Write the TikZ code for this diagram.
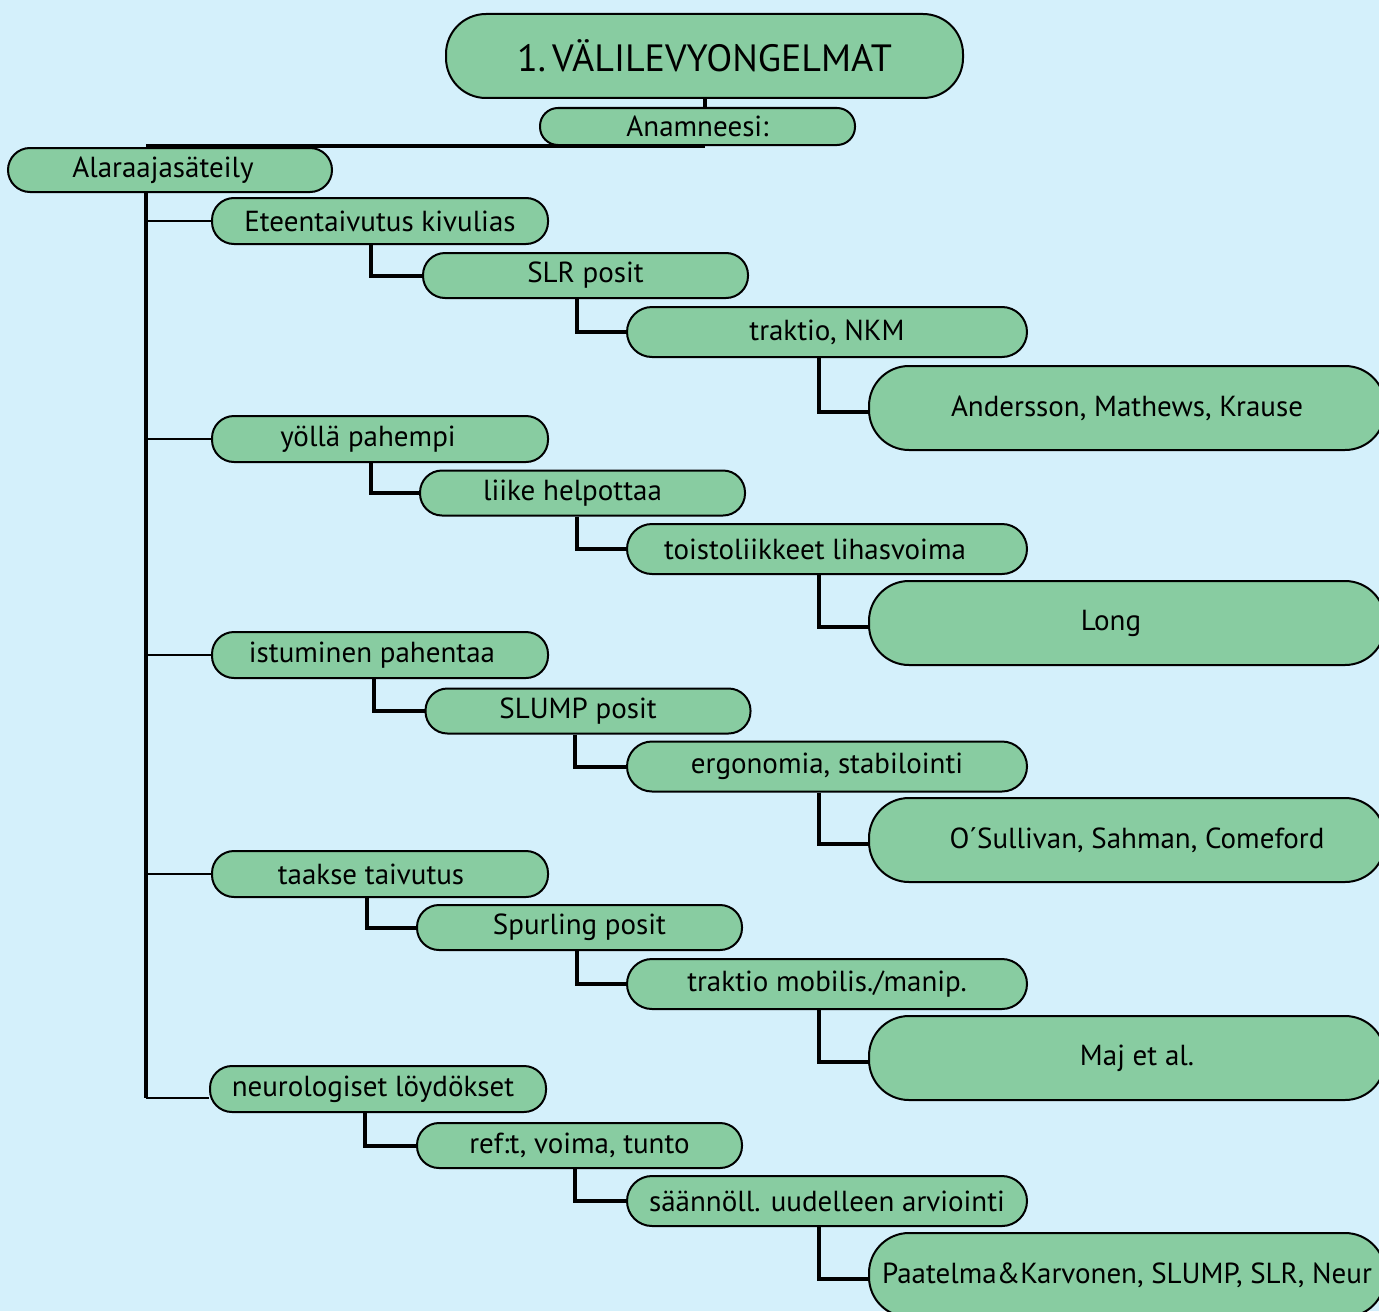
\documentclass[tikz,border=0pt]{standalone}
\usepackage{fontspec}
\setmainfont{PT Sans}
\usetikzlibrary{calc}
\definecolor{bg}{RGB}{212,240,251}
\definecolor{ngreen}{RGB}{136,204,161}
\begin{document}
\begin{tikzpicture}[x=0.5pt,y=-0.5pt,
  box/.style={draw=black, line width=1pt, fill=ngreen, inner sep=0pt, align=center, font=\fontsize{14.5}{17}\selectfont},
  lone/.style={box, minimum width=168pt, minimum height=23pt, rounded corners=11pt},
  ltwo/.style={box, minimum width=162.5pt, minimum height=22.5pt, rounded corners=11pt},
  lthree/.style={box, minimum width=200pt, minimum height=25pt, rounded corners=12.5pt},
  lfour/.style={box, minimum width=258pt, minimum height=42pt, rounded corners=20pt},
  thin/.style={line width=1pt},
  thick/.style={line width=2pt}]
\fill[bg] (0,0) rectangle (1379,1311);
\useasboundingbox (0,0) rectangle (1379,1311);
\clip (0,0) rectangle (1379,1311);
% top
\node[box, minimum width=258.5pt, minimum height=42pt, rounded corners=20pt, font=\fontsize{19}{22}\selectfont] (title) at (704.5,56) {1.\,VÄLILEVYONGELMAT};
\node[box, minimum width=157.5pt, minimum height=18.5pt, rounded corners=9pt] (ana) at (697.5,126.5) {Anamneesi:};
\node[box, minimum width=162pt, minimum height=22pt, rounded corners=11pt] (ala) at (170,170) {\hspace*{-7pt}Alaraajasäteily};
% level 1
\node[lone] (e1) at (380,221) {Eteentaivutus kivulias};
\node[lone] (y1) at (380,439) {\hspace*{-12pt}yöllä pahempi};
\node[lone] (i1) at (380,655) {\hspace*{-8pt}istuminen pahentaa};
\node[lone] (t1) at (380,874) {\hspace*{-9pt}taakse taivutus};
\node[lone] (n1) at (378,1089) {\hspace*{-5pt}neurologiset löydökset};
% level 2
\node[ltwo] (e2) at (585.5,275.5) {SLR posit};
\node[ltwo] (y2) at (582.5,493) {\hspace*{-10pt}liike helpottaa};
\node[ltwo] (i2) at (588,711) {\hspace*{-10pt}SLUMP posit};
\node[ltwo] (t2) at (579.5,927.5) {Spurling posit};
\node[ltwo] (n2) at (579.5,1145.5) {ref:t, voima, tunto};
% level 3
\node[lthree] (e3) at (827,332) {traktio, NKM};
\node[lthree] (y3) at (827,549) {\hspace*{-12pt}toistoliikkeet lihasvoima};
\node[lthree] (i3) at (827,766.5) {ergonomia, stabilointi};
\node[lthree] (t3) at (827,984) {traktio mobilis./manip.};
\node[lthree] (n3) at (827,1201) {säännöll. uudelleen arviointi};
% level 4
\node[lfour] (e4) at (1127,408) {Andersson, Mathews, Krause};
\node[lfour] (y4) at (1127,623) {\hspace*{-16pt}Long};
\node[lfour] (i4) at (1127,840) {\hspace*{10pt}O´Sullivan, Sahman, Comeford};
\node[lfour] (t4) at (1127,1058) {\hspace*{10pt}Maj et al.};
\node[lfour] (n4) at (1127,1275) {Paatelma\&Karvonen, SLUMP, SLR, Neur};
% connectors top
\coordinate (trunktop) at (146,192);
\coordinate (trunkbot) at (146,1098);
\draw[thick] (title.south) -- (title.south |- ana.north);
\draw[thick] (title.south |- ana.south) -- (trunktop |- ana.south);
\draw[thick] (trunktop) -- (trunkbot);
\foreach \n in {e1,y1,i1,t1} \draw[thin] (trunktop |- \n.west) -- (\n.west);
\draw[thin] (trunkbot) -- (trunkbot -| n1.west);
% level1 -> level2
\draw[thick] ($(e1.south west)+(160,0)$) |- (e2.west);
\draw[thick] ($(y1.south west)+(160,0)$) |- (y2.west);
\draw[thick] ($(i1.south west)+(163,0)$) |- (i2.west);
\draw[thick] ($(t1.south west)+(156,0)$) |- (t2.west);
\draw[thick] ($(n1.south west)+(156,0)$) |- (n2.west);
% level2 -> level3
\draw[thick] ($(e2.south west)+(155,0)$) |- (e3.west);
\draw[thick] ($(y2.south west)+(158,0)$) |- (y3.west);
\draw[thick] ($(i2.south west)+(150,0)$) |- (i3.west);
\draw[thick] ($(t2.south west)+(161,0)$) |- (t3.west);
\draw[thick] ($(n2.south west)+(159,0)$) |- (n3.west);
% level3 -> level4
\foreach \a/\b in {e3/e4,y3/y4,i3/i4,t3/t4,n3/n4}
  \draw[thick] ($(\a.south west)+(193,0)$) |- ($(\b.west)+(0,4)$);
\end{tikzpicture}
\end{document}
